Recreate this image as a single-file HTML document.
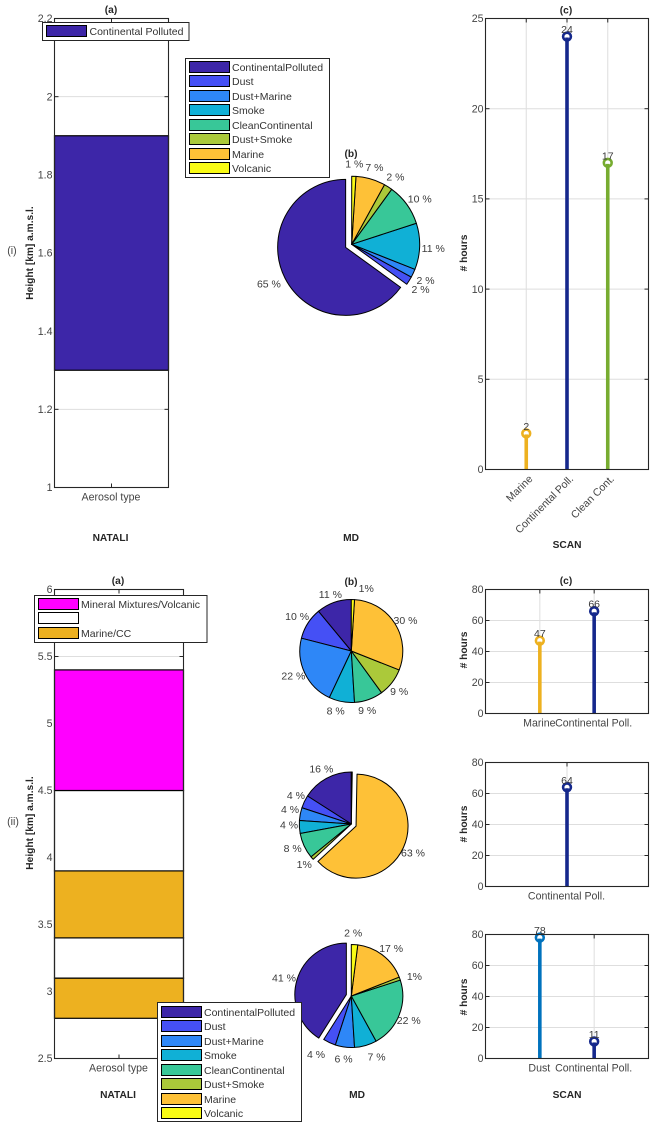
<!DOCTYPE html>
<html lang="en">
<head>
<meta charset="utf-8">
<title>Aerosol type panels</title>
<style>
html,body{margin:0;padding:0;background:#fff;}
svg{display:block;}
text{font-family:"Liberation Sans",Arial,sans-serif;}
.tick{font-size:10.6px;fill:#444;}
.leg{font-size:10.5px;fill:#333;}
.pielab{font-size:10.5px;fill:#3a3a3a;}
.bold{font-size:10.2px;font-weight:bold;fill:#262626;}
.sw{stroke:#000;stroke-width:1;}
.box{fill:#fff;stroke:#262626;stroke-width:1;}
</style>
</head>
<body>
<svg id="figure" xmlns="http://www.w3.org/2000/svg" width="657" height="1128" viewBox="0 0 657 1128">
<rect x="0" y="0" width="657" height="1128" fill="#fff"/>
<g id="charts"></g>

<g>
<text class="bold" x="111" y="13" text-anchor="middle">(a)</text>
<text class="bold" x="351" y="157" text-anchor="middle">(b)</text>
<text class="bold" x="566" y="13.5" text-anchor="middle">(c)</text>
<text class="bold" x="118" y="584" text-anchor="middle">(a)</text>
<text class="bold" x="351" y="585" text-anchor="middle">(b)</text>
<text class="bold" x="566" y="584" text-anchor="middle">(c)</text>
<text class="tick" x="12" y="254" text-anchor="middle">(i)</text>
<text class="tick" x="13" y="825" text-anchor="middle">(ii)</text>
<text class="bold" transform="translate(33,253) rotate(-90)" text-anchor="middle">Height [km] a.m.s.l.</text>
<text class="bold" transform="translate(33,823) rotate(-90)" text-anchor="middle">Height [km] a.m.s.l.</text>
<text class="bold" transform="translate(467,253) rotate(-90)" text-anchor="middle">&#35; hours</text>
<text class="bold" transform="translate(467,650) rotate(-90)" text-anchor="middle">&#35; hours</text>
<text class="bold" transform="translate(467,824) rotate(-90)" text-anchor="middle">&#35; hours</text>
<text class="bold" transform="translate(467,997) rotate(-90)" text-anchor="middle">&#35; hours</text>
<text class="bold" x="110.5" y="541" text-anchor="middle">NATALI</text>
<text class="bold" x="351" y="541" text-anchor="middle">MD</text>
<text class="bold" x="567" y="548" text-anchor="middle">SCAN</text>
<text class="bold" x="118" y="1098" text-anchor="middle">NATALI</text>
<text class="bold" x="357" y="1098" text-anchor="middle">MD</text>
<text class="bold" x="567" y="1098" text-anchor="middle">SCAN</text>
</g>

<g>
<rect class="box" x="42.5" y="22.5" width="146.5" height="18"/>
<rect class="sw" x="46.5" y="25.5" width="40" height="11" fill="#3d26a8"/>
<text class="leg" x="89.5" y="35">Continental Polluted</text>
</g>

<g>
<rect class="box" x="185.5" y="58.5" width="144" height="119"/>
<rect class="sw" x="189.5" y="61.5" width="40" height="11" fill="#3d26a8"/>
<text class="leg" x="232" y="71">ContinentalPolluted</text>
<rect class="sw" x="189.5" y="75.5" width="40" height="11" fill="#4550f5"/>
<text class="leg" x="232" y="85">Dust</text>
<rect class="sw" x="189.5" y="90.5" width="40" height="11" fill="#2e87f7"/>
<text class="leg" x="232" y="100">Dust+Marine</text>
<rect class="sw" x="189.5" y="104.5" width="40" height="11" fill="#10b0d6"/>
<text class="leg" x="232" y="114">Smoke</text>
<rect class="sw" x="189.5" y="119.5" width="40" height="11" fill="#38c798"/>
<text class="leg" x="232" y="129">CleanContinental</text>
<rect class="sw" x="189.5" y="133.5" width="40" height="11" fill="#abc93a"/>
<text class="leg" x="232" y="143">Dust+Smoke</text>
<rect class="sw" x="189.5" y="148.5" width="40" height="11" fill="#fec137"/>
<text class="leg" x="232" y="158">Marine</text>
<rect class="sw" x="189.5" y="162.5" width="40" height="11" fill="#f9fb15"/>
<text class="leg" x="232" y="172">Volcanic</text>
</g>

<g>
<rect class="box" x="34.5" y="595.5" width="172.5" height="47"/>
<rect class="sw" x="38.5" y="598.5" width="40" height="11" fill="#ff00ff"/>
<text class="leg" x="81" y="608">Mineral Mixtures/Volcanic</text>
<rect class="sw" x="38.5" y="612.5" width="40" height="11" fill="#fff"/>
<rect class="sw" x="38.5" y="627.5" width="40" height="11" fill="#edb120"/>
<text class="leg" x="81" y="637">Marine/CC</text>
</g>

<g>
<rect class="box" x="157.5" y="1002.5" width="144" height="119"/>
<rect class="sw" x="161.5" y="1006.5" width="40" height="11" fill="#3d26a8"/>
<text class="leg" x="204" y="1016">ContinentalPolluted</text>
<rect class="sw" x="161.5" y="1020.5" width="40" height="11" fill="#4550f5"/>
<text class="leg" x="204" y="1030">Dust</text>
<rect class="sw" x="161.5" y="1035.5" width="40" height="11" fill="#2e87f7"/>
<text class="leg" x="204" y="1045">Dust+Marine</text>
<rect class="sw" x="161.5" y="1049.5" width="40" height="11" fill="#10b0d6"/>
<text class="leg" x="204" y="1059">Smoke</text>
<rect class="sw" x="161.5" y="1064.5" width="40" height="11" fill="#38c798"/>
<text class="leg" x="204" y="1074">CleanContinental</text>
<rect class="sw" x="161.5" y="1078.5" width="40" height="11" fill="#abc93a"/>
<text class="leg" x="204" y="1088">Dust+Smoke</text>
<rect class="sw" x="161.5" y="1093.5" width="40" height="11" fill="#fec137"/>
<text class="leg" x="204" y="1103">Marine</text>
<rect class="sw" x="161.5" y="1107.5" width="40" height="11" fill="#f9fb15"/>
<text class="leg" x="204" y="1117">Volcanic</text>
</g>
</svg>

<script>
// ---- Height-bar data ----
const heightTicksI = [1, 1.2, 1.4, 1.6, 1.8, 2, 2.2];
const heightTickLabelsI = ['1', '1.2', '1.4', '1.6', '1.8', '2', '2.2'];
const barBottomsI = [1.3];
const barTopsI = [1.9];
const heightTicksII = [2.5, 3, 3.5, 4, 4.5, 5, 5.5, 6];
const heightTickLabelsII = ['2.5', '3', '3.5', '4', '4.5', '5', '5.5', '6'];
const barBottomsII = [2.8, 3.1, 3.4, 3.9, 4.5];
const barTopsII = [3.1, 3.4, 3.9, 4.5, 5.4];
const barCategory = ['Aerosol type'];

// ---- Pie data (legend order, counter-clockwise from 12 o'clock) ----
const pieValuesI = [65, 2, 2, 11, 10, 2, 7, 1];
const pieLabelsI = ['65 %', '2 %', '2 %', '11 %', '10 %', '2 %', '7 %', '1 %'];
const pieValuesII1 = [11, 10, 22, 8, 9, 9, 30, 1];
const pieLabelsII1 = ['11 %', '10 %', '22 %', '8 %', '9 %', '9 %', '30 %', '1%'];
const pieValuesII2 = [16, 4, 4, 4, 8, 1, 63, 0.3];
const pieLabelsII2 = ['16 %', '4 %', '4 %', '4 %', '8 %', '1%', '63 %', ''];
const pieValuesII3 = [41, 4, 6, 7, 22, 1, 17, 2];
const pieLabelsII3 = ['41 %', '4 %', '6 %', '7 %', '22 %', '1%', '17 %', '2 %'];

// ---- Stem data ----
const scanCategoriesI = ['Marine', 'Continental Poll.', 'Clean Cont.'];
const scanHoursI = [2, 24, 17];
const scanTicksI = [0, 5, 10, 15, 20, 25];
const scanTickLabelsI = ['0', '5', '10', '15', '20', '25'];
const scanCategoriesII1 = ['Marine', 'Continental Poll.'];
const scanHoursII1 = [47, 66];
const scanCategoriesII2 = ['Continental Poll.'];
const scanHoursII2 = [64];
const scanCategoriesII3 = ['Dust', 'Continental Poll.'];
const scanHoursII3 = [78, 11];
const scanTicksII = [0, 20, 40, 60, 80];
const scanTickLabelsII = ['0', '20', '40', '60', '80'];

// ---- Styling ----
const SVGNS = 'http://www.w3.org/2000/svg';
const layer = document.getElementById('charts');
const sliceColors = ['#3d26a8', '#4550f5', '#2e87f7', '#10b0d6', '#38c798', '#abc93a', '#fec137', '#f9fb15'];
const sliceNames = ['continental-polluted', 'dust', 'dust-marine', 'smoke', 'clean-continental', 'dust-smoke', 'marine', 'volcanic'];
const stemPalette = {
  'Marine': '#edb120',
  'Continental Poll.': '#15288c',
  'Clean Cont.': '#77ac30',
  'Dust': '#0072bd'
};

function mk(tag, attrs, parent) {
  const el = document.createElementNS(SVGNS, tag);
  for (const k in attrs) el.setAttribute(k, attrs[k]);
  (parent || layer).appendChild(el);
  return el;
}
function linear(d0, d1, r0, r1) {
  return function (v) { return r0 + (v - d0) * (r1 - r0) / (d1 - d0); };
}
function slug(s) {
  return s.toLowerCase().replace(/[^a-z0-9]+/g, '-').replace(/-$/, '');
}

// shared axes: grid, ticks, labels (frame is added afterwards so bars sit beneath it)
function drawAxes(prefix, box, yScale, yTicks, yLabels, xPositions, xLabels, rotateX, vGrid) {
  const g = mk('g', {});
  
  
  yTicks.forEach(function (t, i) {
    const y = yScale(t);
    if (y > box.top + 0.5 && y < box.bottom - 0.5) {
      const line = mk('line', { x1: box.left, x2: box.right, y1: y, y2: y, stroke: '#dedede', 'stroke-width': 1 }, g);
      
      
      const tl = mk('line', { x1: box.left, x2: box.left + 4, y1: y, y2: y, stroke: '#262626', 'stroke-width': 1 }, g);
      
      
      const tr = mk('line', { x1: box.right - 4, x2: box.right, y1: y, y2: y, stroke: '#262626', 'stroke-width': 1 }, g);
      
      
    }
    const lab = mk('text', { x: box.left - 2, y: y + 3.7, 'text-anchor': 'end', class: 'tick' }, g);
    
    
    lab.textContent = yLabels[i];
  });
  xPositions.forEach(function (x, i) {
    if (vGrid) {
      const v = mk('line', { x1: x, x2: x, y1: box.top, y2: box.bottom, stroke: '#dedede', 'stroke-width': 1 }, g);
      
      
    }
    const tb = mk('line', { x1: x, x2: x, y1: box.bottom - 4, y2: box.bottom, stroke: '#262626', 'stroke-width': 1 }, g);
    
    
    const tt = mk('line', { x1: x, x2: x, y1: box.top, y2: box.top + 4, stroke: '#262626', 'stroke-width': 1 }, g);
    
    
    const lab = mk('text', { class: 'tick' }, g);
    
    
    lab.textContent = xLabels[i];
    if (rotateX) {
      lab.setAttribute('text-anchor', 'end');
      lab.setAttribute('transform', 'translate(' + (x + 7) + ',' + (box.bottom + 10) + ') rotate(-45)');
    } else {
      lab.setAttribute('text-anchor', 'middle');
      lab.setAttribute('x', x - 0.5);
      lab.setAttribute('y', box.bottom + 13);
    }
  });
}
function drawFrame(prefix, box) {
  const f = mk('rect', { x: box.left, y: box.top, width: box.right - box.left, height: box.bottom - box.top, fill: 'none', stroke: '#262626', 'stroke-width': 1.1 });
  
  
}

function drawBars(prefix, box, domain, ticks, labels, bottoms, tops, fills) {
  const y = linear(domain[0], domain[1], box.bottom, box.top);
  const cx = (box.left + box.right) / 2;
  drawAxes(prefix, box, y, ticks, labels, [cx], barCategory, false, false);
  bottoms.forEach(function (b, i) {
    const r = mk('rect', { x: box.left, width: box.right - box.left, y: y(tops[i]), height: y(b) - y(tops[i]), fill: fills[i], stroke: '#000', 'stroke-width': 1.2 });
    
    
  });
  drawFrame(prefix, box);
}

function drawStems(prefix, box, yMax, ticks, labels, categories, values, rotateX) {
  const y = linear(0, yMax, box.bottom, box.top);
  const x = linear(0, categories.length + 1, box.left, box.right);
  const xs = categories.map(function (c, i) { return x(i + 1); });
  drawAxes(prefix, box, y, ticks, labels, xs, categories, rotateX, true);
  values.forEach(function (v, i) {
    const color = stemPalette[categories[i]];
    const m = mk('circle', { cx: xs[i], cy: y(v), r: 3.9, fill: '#fff', stroke: color, 'stroke-width': 2.6 });
    
    
    const s = mk('line', { x1: xs[i], x2: xs[i], y1: box.bottom, y2: y(v) + 1, stroke: color, 'stroke-width': 3.6 });
    
    
    const t = mk('text', { x: xs[i], y: y(v) - 3.5, 'text-anchor': 'middle', class: 'pielab' });
    
    
    t.textContent = String(v);
  });
  drawFrame(prefix, box);
}

function drawPie(prefix, geom, values, labels) {
  const total = values.reduce(function (a, b) { return a + b; }, 0);
  let cum = 0;
  values.forEach(function (v, i) {
    const a0 = cum / total * 2 * Math.PI;
    cum += v;
    const a1 = cum / total * 2 * Math.PI;
    const mid = (a0 + a1) / 2;
    const ex = i === geom.explode ? 0.1 * geom.r : 0;
    const ox = geom.cx - Math.sin(mid) * ex;
    const oy = geom.cy - Math.cos(mid) * ex;
    const x0 = ox - Math.sin(a0) * geom.r, y0 = oy - Math.cos(a0) * geom.r;
    const x1 = ox - Math.sin(a1) * geom.r, y1 = oy - Math.cos(a1) * geom.r;
    const large = (a1 - a0) > Math.PI ? 1 : 0;
    const d = 'M' + ox + ' ' + oy + 'L' + x0 + ' ' + y0 + 'A' + geom.r + ' ' + geom.r + ' 0 ' + large + ' 0 ' + x1 + ' ' + y1 + 'Z';
    const p = mk('path', { d: d, fill: sliceColors[i], stroke: '#000', 'stroke-width': 1, 'stroke-linejoin': 'round' });
    
    
    if (labels[i]) {
      const nudge = (geom.nudge && geom.nudge[i]) || [0, 0];
      const lx = ox - Math.sin(mid) * geom.r * 1.2 + nudge[0];
      const ly = oy - Math.cos(mid) * geom.r * 1.2 + nudge[1];
      const t = mk('text', { x: lx, y: ly + 5, 'text-anchor': 'middle', class: 'pielab' });
      
      
      t.textContent = labels[i];
    }
  });
}

// ---- Row (i) ----
drawBars('height-bars-i', { left: 54.5, right: 168.5, top: 18.5, bottom: 487.5 }, [1, 2.2],
  heightTicksI, heightTickLabelsI, barBottomsI, barTopsI, ['#3d26a8']);
drawPie('pie-i', { cx: 351.7, cy: 244.3, r: 68, explode: 0, nudge: { 0: [-4, -2], 4: [2, 1] } }, pieValuesI, pieLabelsI);
drawStems('scan-i', { left: 485.5, right: 648.5, top: 18.5, bottom: 469.5 }, 25,
  scanTicksI, scanTickLabelsI, scanCategoriesI, scanHoursI, true);

// ---- Row (ii) ----
drawBars('height-bars-ii', { left: 54.5, right: 183.5, top: 589.5, bottom: 1058.5 }, [2.5, 6],
  heightTicksII, heightTickLabelsII, barBottomsII, barTopsII, ['#edb120', '#ffffff', '#edb120', '#ffffff', '#ff00ff']);
drawPie('pie-ii-1', { cx: 351.3, cy: 651, r: 51.5, explode: -1, nudge: { 1: [-2, -3], 2: [-2, -3], 3: [-4, -2], 4: [-5, 0], 5: [-1, 1], 6: [2, 1], 7: [13, -2] } }, pieValuesII1, pieLabelsII1);
drawPie('pie-ii-2', { cx: 351.3, cy: 824, r: 52, explode: 6, nudge: { 0: [0, -2], 1: [1, -3], 2: [0, -4], 3: [0, -4], 4: [-2, -3], 5: [0, -2] } }, pieValuesII2, pieLabelsII2);
drawPie('pie-ii-3', { cx: 351.3, cy: 996, r: 51.5, explode: 0, nudge: { 0: [-3, -1], 1: [-9, 1], 3: [8, 0], 5: [5, 0], 6: [2, 0], 7: [-2, -3] } }, pieValuesII3, pieLabelsII3);
drawStems('scan-ii-1', { left: 485.5, right: 648.5, top: 589.5, bottom: 713.5 }, 80,
  scanTicksII, scanTickLabelsII, scanCategoriesII1, scanHoursII1, false);
drawStems('scan-ii-2', { left: 485.5, right: 648.5, top: 762.5, bottom: 886.5 }, 80,
  scanTicksII, scanTickLabelsII, scanCategoriesII2, scanHoursII2, false);
drawStems('scan-ii-3', { left: 485.5, right: 648.5, top: 934.5, bottom: 1058.5 }, 80,
  scanTicksII, scanTickLabelsII, scanCategoriesII3, scanHoursII3, false);
</script>
</body>
</html>
